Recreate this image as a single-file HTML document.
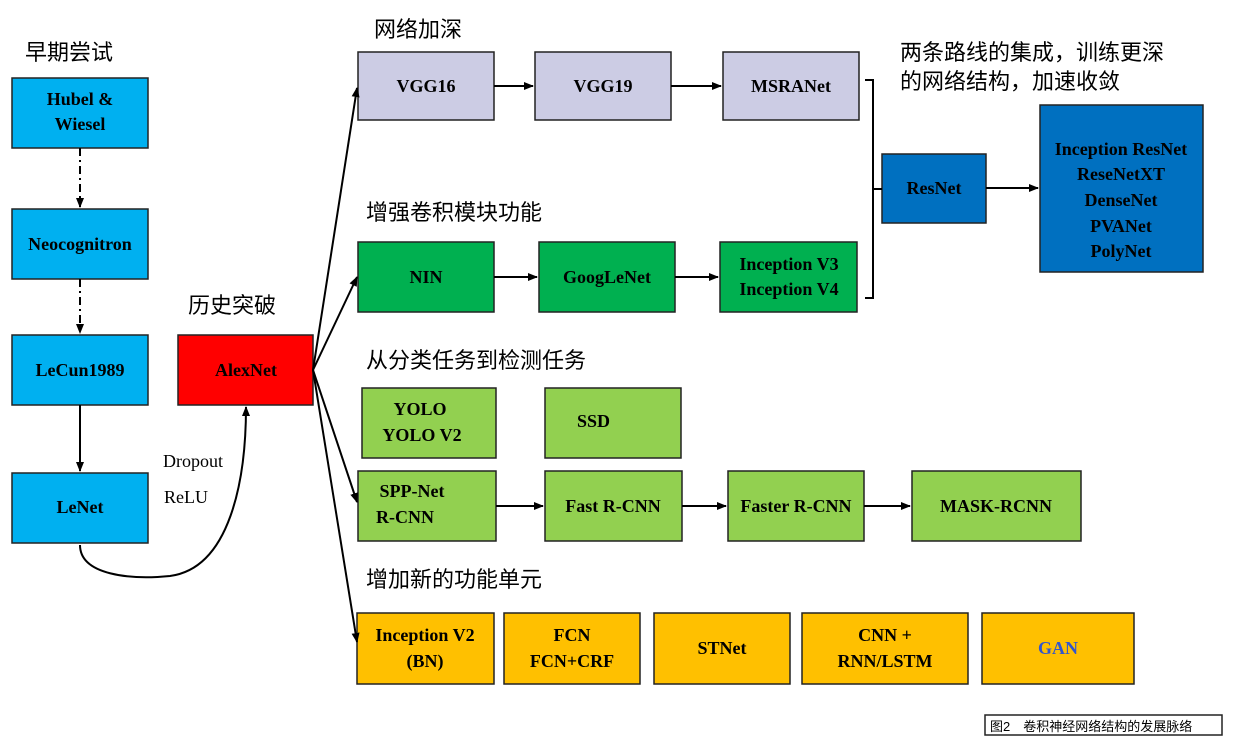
<!DOCTYPE html>
<html><head><meta charset="utf-8"><style>
body{margin:0;background:#fff}
svg{display:block}
text{font-family:"Liberation Serif","Noto Serif CJK SC",serif;font-weight:bold;font-size:18px;text-anchor:middle}
.cn{font-family:"Liberation Sans","Noto Sans CJK SC",sans-serif;font-weight:normal;font-size:22px;text-anchor:start}
rect{stroke:#222;stroke-width:1.5}
</style></head><body>
<svg width="1236" height="744" viewBox="0 0 1236 744">
<defs><marker id="a" markerWidth="10" markerHeight="10" refX="9" refY="5" orient="auto" markerUnits="userSpaceOnUse"><path d="M0,1 L10,5 L0,9 z" fill="#000"/></marker></defs>
<g fill="#00b0f0">
<rect x="12" y="78" width="136" height="70"/><rect x="12" y="209" width="136" height="70"/>
<rect x="12" y="335" width="136" height="70"/><rect x="12" y="473" width="136" height="70"/></g>
<rect x="178" y="335" width="135" height="70" fill="#ff0000"/>
<g fill="#ccccE4"><rect x="358" y="52" width="136" height="68"/><rect x="535" y="52" width="136" height="68"/><rect x="723" y="52" width="136" height="68"/></g>
<g fill="#00b050"><rect x="358" y="242" width="136" height="70"/><rect x="539" y="242" width="136" height="70"/><rect x="720" y="242" width="137" height="70"/></g>
<g fill="#0070c0"><rect x="882" y="154" width="104" height="69"/><rect x="1040" y="105" width="163" height="167"/></g>
<g fill="#92d050"><rect x="362" y="388" width="134" height="70"/><rect x="545" y="388" width="136" height="70"/>
<rect x="358" y="471" width="138" height="70"/><rect x="545" y="471" width="137" height="70"/><rect x="728" y="471" width="136" height="70"/><rect x="912" y="471" width="169" height="70"/></g>
<g fill="#ffc000"><rect x="357" y="613" width="137" height="71"/><rect x="504" y="613" width="136" height="71"/><rect x="654" y="613" width="136" height="71"/><rect x="802" y="613" width="166" height="71"/><rect x="982" y="613" width="152" height="71"/></g>

<g stroke="#000" stroke-width="2" fill="none">
<path d="M80,148 V207" stroke-dasharray="8,4,2,4" marker-end="url(#a)"/>
<path d="M80,279 V333" stroke-dasharray="8,4,2,4" marker-end="url(#a)"/>
<path d="M80,405 V471" marker-end="url(#a)"/>
<path d="M80,545 C80,575 130,580 170,576 C230,568 246,480 246,407" marker-end="url(#a)"/>
<path d="M313,370 L357,88" marker-end="url(#a)"/>
<path d="M313,370 L357,277" marker-end="url(#a)"/>
<path d="M313,370 L357,502" marker-end="url(#a)"/>
<path d="M313,370 L357,642" marker-end="url(#a)"/>
<path d="M494,86 H533" marker-end="url(#a)"/><path d="M671,86 H721" marker-end="url(#a)"/>
<path d="M494,277 H537" marker-end="url(#a)"/><path d="M675,277 H718" marker-end="url(#a)"/>
<path d="M496,506 H543" marker-end="url(#a)"/><path d="M682,506 H726" marker-end="url(#a)"/><path d="M864,506 H910" marker-end="url(#a)"/>
<path d="M986,188 H1038" marker-end="url(#a)"/>
<path d="M865,80 H873 V298 H865 M873,189 H882"/>
</g>

<text x="80" y="105">Hubel &amp;</text><text x="80" y="130">Wiesel</text>
<text x="80" y="250">Neocognitron</text>
<text x="80" y="376">LeCun1989</text>
<text x="80" y="513">LeNet</text>
<text x="246" y="376">AlexNet</text>
<text x="426" y="92">VGG16</text><text x="603" y="92">VGG19</text><text x="791" y="92">MSRANet</text>
<text x="426" y="283">NIN</text><text x="607" y="283">GoogLeNet</text>
<text x="789" y="270">Inception V3</text><text x="789" y="295">Inception V4</text>
<text x="934" y="194">ResNet</text>
<text x="1121" y="155">Inception  ResNet</text><text x="1121" y="180">ReseNetXT</text><text x="1121" y="206">DenseNet</text><text x="1121" y="232">PVANet</text><text x="1121" y="257">PolyNet</text>
<text x="420" y="415">YOLO</text><text x="422" y="441">YOLO V2</text>
<text x="577" y="427" style="text-anchor:start">SSD</text>
<text x="412" y="497">SPP-Net</text><text x="405" y="523">R-CNN</text>
<text x="613" y="512">Fast R-CNN</text><text x="796" y="512">Faster R-CNN</text><text x="996" y="512">MASK-RCNN</text>
<text x="425" y="641">Inception V2</text><text x="425" y="667">(BN)</text>
<text x="572" y="641">FCN</text><text x="572" y="667">FCN+CRF</text>
<text x="722" y="654">STNet</text>
<text x="885" y="641">CNN +</text><text x="885" y="667">RNN/LSTM</text>
<text x="1058" y="654" fill="#3355cc">GAN</text>
<text x="193" y="467" style="font-weight:normal">Dropout</text>
<text x="186" y="503" style="font-weight:normal">ReLU</text>

<text class="cn" x="25" y="60">早期尝试</text>
<text class="cn" x="374" y="37">网络加深</text>
<text class="cn" x="188" y="313">历史突破</text>
<text class="cn" x="366" y="220">增强卷积模块功能</text>
<text class="cn" x="366" y="368">从分类任务到检测任务</text>
<text class="cn" x="366" y="587">增加新的功能单元</text>
<text class="cn" x="900" y="60">两条路线的集成，训练更深</text>
<text class="cn" x="900" y="89">的网络结构，加速收敛</text>
<rect x="985" y="715" width="237" height="20" fill="#fff" stroke="#bbb" stroke-width="1"/>
<text class="cn" x="990" y="731" style="font-size:13px">图2　卷积神经网络结构的发展脉络</text>
</svg>
</body></html>
